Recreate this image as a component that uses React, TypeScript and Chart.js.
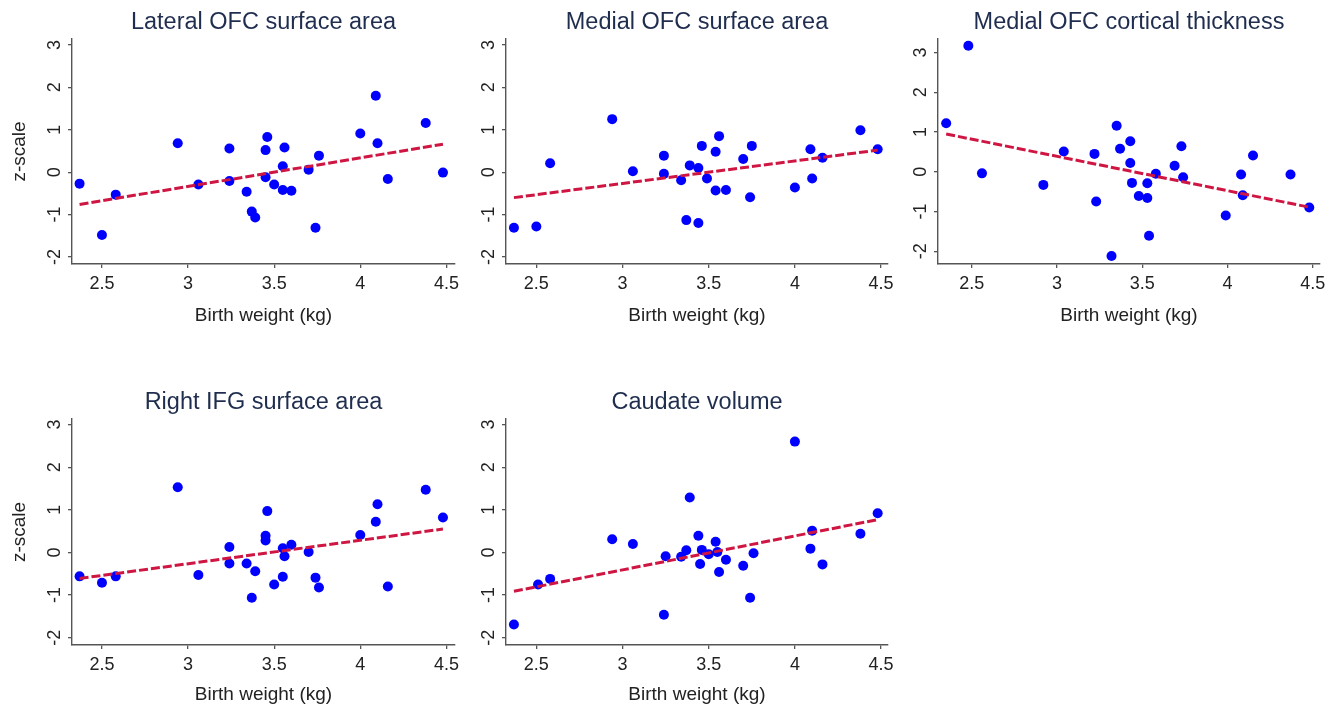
import React, { useEffect, useRef } from "react";
import { Chart, registerables } from "chart.js";

Chart.register(...registerables);

// ---------- data ----------
const xTickValues = [2.5, 3, 3.5, 4, 4.5];
const yTickValues = [-2, -1, 0, 1, 2, 3];
const xAxisLabel = "Birth weight (kg)";
const yAxisLabel = "z-scale";

const lateralTitle = "Lateral OFC surface area";
const lateralX = [2.37, 2.5, 2.58, 2.94, 3.06, 3.24, 3.24, 3.34, 3.37, 3.39, 3.45, 3.46, 3.45, 3.5, 3.55, 3.55, 3.56, 3.6, 3.7, 3.74, 3.76, 4.0, 4.09, 4.1, 4.16, 4.38, 4.48];
const lateralY = [-0.27, -1.48, -0.53, 0.68, -0.29, 0.56, -0.21, -0.46, -0.93, -1.07, 0.52, 0.83, -0.12, -0.29, 0.14, -0.42, 0.58, -0.44, 0.06, -1.31, 0.39, 0.91, 1.8, 0.68, -0.16, 1.16, -0.01];
const lateralFitX = [2.37, 4.48];
const lateralFitY = [-0.76, 0.66];

const medialAreaTitle = "Medial OFC surface area";
const medialAreaX = [2.37, 2.5, 2.58, 2.94, 3.06, 3.24, 3.24, 3.34, 3.37, 3.39, 3.44, 3.46, 3.44, 3.49, 3.54, 3.54, 3.56, 3.6, 3.7, 3.74, 3.75, 4.0, 4.09, 4.1, 4.16, 4.38, 4.48];
const medialAreaY = [-1.31, -1.28, 0.21, 1.25, 0.02, 0.39, -0.04, -0.19, -1.13, 0.16, -1.2, 0.62, 0.1, -0.15, 0.48, -0.43, 0.85, -0.42, 0.31, -0.59, 0.62, -0.36, 0.54, -0.15, 0.34, 0.99, 0.54];
const medialAreaFitX = [2.37, 4.48];
const medialAreaFitY = [-0.6, 0.52];

const medialThickTitle = "Medial OFC cortical thickness";
const medialThickX = [2.35, 2.48, 2.56, 2.92, 3.04, 3.22, 3.23, 3.32, 3.35, 3.37, 3.43, 3.43, 3.44, 3.48, 3.53, 3.53, 3.54, 3.58, 3.69, 3.73, 3.74, 3.99, 4.08, 4.09, 4.15, 4.37, 4.48];
const medialThickY = [1.22, 3.17, -0.04, -0.33, 0.51, 0.45, -0.75, -2.12, 1.16, 0.58, 0.77, 0.22, -0.28, -0.61, -0.29, -0.66, -1.61, -0.05, 0.15, 0.64, -0.14, -1.1, -0.07, -0.59, 0.41, -0.07, -0.9];
const medialThickFitX = [2.35, 4.48];
const medialThickFitY = [0.95, -0.89];

const ifgTitle = "Right IFG surface area";
const ifgX = [2.37, 2.5, 2.58, 2.94, 3.06, 3.24, 3.24, 3.34, 3.37, 3.39, 3.45, 3.45, 3.46, 3.5, 3.55, 3.55, 3.56, 3.6, 3.7, 3.74, 3.76, 4.0, 4.09, 4.1, 4.16, 4.38, 4.48];
const ifgY = [-0.56, -0.71, -0.56, 1.53, -0.53, 0.13, -0.26, -0.26, -1.06, -0.44, 0.39, 0.28, 0.97, -0.75, 0.1, -0.57, -0.09, 0.18, 0.01, -0.59, -0.82, 0.41, 0.72, 1.13, -0.8, 1.47, 0.82];
const ifgFitX = [2.37, 4.48];
const ifgFitY = [-0.61, 0.55];

const caudateTitle = "Caudate volume";
const caudateX = [2.37, 2.51, 2.58, 2.94, 3.06, 3.25, 3.24, 3.34, 3.37, 3.39, 3.44, 3.45, 3.46, 3.5, 3.54, 3.55, 3.56, 3.6, 3.7, 3.74, 3.76, 4.0, 4.09, 4.1, 4.16, 4.38, 4.48];
const caudateY = [-1.69, -0.75, -0.62, 0.31, 0.2, -0.09, -1.46, -0.1, 0.05, 1.29, 0.39, -0.27, 0.06, -0.04, 0.25, 0.01, -0.46, -0.17, -0.31, -1.06, -0.02, 2.6, 0.09, 0.51, -0.28, 0.44, 0.92];
const caudateFitX = [2.37, 4.48];
const caudateFitY = [-0.91, 0.77];

// ---------- layout / style ----------
const FONT = '"Liberation Sans", Arial, Helvetica, sans-serif';
const TITLE_COLOR = "#1f2d4e";
const TEXT_COLOR = "#222222";
const AXIS_COLOR = "#555555";
const DOT_COLOR = "#0000ff";
const FIT_COLOR = "#cf1642";

type PanelDef = {
  title: string;
  xs: number[];
  ys: number[];
  fitX: number[];
  fitY: number[];
  left: number;
  top: number;
  width: number;
  height: number;
  yAxisWidth: number;
  padTop: number;
  padRight: number;
  xAxisHeight: number;
  xTitlePad: number;
  showYTitle: boolean;
  xMin: number;
  xMax: number;
  yMin: number;
  yMax: number;
};

const panels: PanelDef[] = [
  { title: lateralTitle, xs: lateralX, ys: lateralY, fitX: lateralFitX, fitY: lateralFitY,
    left: 0, top: 0, width: 480, height: 340, yAxisWidth: 72, padTop: 39, padRight: 25,
    xAxisHeight: 76, xTitlePad: 13, showYTitle: true, xMin: 2.326, xMax: 4.55, yMin: -2.165, yMax: 3.14 },
  { title: medialAreaTitle, xs: medialAreaX, ys: medialAreaY, fitX: medialAreaFitX, fitY: medialAreaFitY,
    left: 450, top: 0, width: 460, height: 340, yAxisWidth: 56, padTop: 39, padRight: 22,
    xAxisHeight: 76, xTitlePad: 13, showYTitle: false, xMin: 2.324, xMax: 4.54, yMin: -2.165, yMax: 3.14 },
  { title: medialThickTitle, xs: medialThickX, ys: medialThickY, fitX: medialThickFitX, fitY: medialThickFitY,
    left: 890, top: 0, width: 446, height: 340, yAxisWidth: 48, padTop: 39, padRight: 16,
    xAxisHeight: 76, xTitlePad: 13, showYTitle: false, xMin: 2.302, xMax: 4.543, yMin: -2.32, yMax: 3.34 },
  { title: ifgTitle, xs: ifgX, ys: ifgY, fitX: ifgFitX, fitY: ifgFitY,
    left: 0, top: 380, width: 480, height: 327, yAxisWidth: 72, padTop: 39, padRight: 25,
    xAxisHeight: 62, xTitlePad: 1, showYTitle: true, xMin: 2.326, xMax: 4.55, yMin: -2.17, yMax: 3.13 },
  { title: caudateTitle, xs: caudateX, ys: caudateY, fitX: caudateFitX, fitY: caudateFitY,
    left: 450, top: 380, width: 460, height: 327, yAxisWidth: 56, padTop: 39, padRight: 22,
    xAxisHeight: 62, xTitlePad: 1, showYTitle: false, xMin: 2.324, xMax: 4.54, yMin: -2.17, yMax: 3.13 },
];

function Panel({ def }: { def: PanelDef }) {
  const ref = useRef<HTMLCanvasElement | null>(null);

  useEffect(() => {
    if (!ref.current) return;
    const decor = {
      id: "decor",
      afterDraw(chart: any) {
        const { ctx, chartArea, scales } = chart;
        ctx.save();
        // title
        ctx.fillStyle = TITLE_COLOR;
        ctx.font = `23.5px ${FONT}`;
        ctx.textAlign = "center";
        ctx.textBaseline = "middle";
        ctx.fillText(def.title, (chartArea.left + chartArea.right) / 2, 23);
        // rotated y tick labels
        ctx.fillStyle = TEXT_COLOR;
        ctx.font = `18px ${FONT}`;
        for (const v of yTickValues) {
          const py = scales.y.getPixelForValue(v);
          ctx.save();
          ctx.translate(chartArea.left - 17, py);
          ctx.rotate(-Math.PI / 2);
          ctx.textAlign = "center";
          ctx.textBaseline = "middle";
          ctx.fillText(String(v), 0, 0);
          ctx.restore();
        }
        ctx.restore();
      },
    };

    const chart = new Chart(ref.current, {
      type: "scatter",
      data: {
        datasets: [
          {
            type: "line",
            data: def.fitX.map((x, i) => ({ x, y: def.fitY[i] })),
            borderColor: FIT_COLOR,
            borderWidth: 3,
            borderDash: [9, 3],
            pointRadius: 0,
            fill: false,
          } as any,
          {
            type: "scatter",
            data: def.xs.map((x, i) => ({ x, y: def.ys[i] })),
            backgroundColor: DOT_COLOR,
            borderWidth: 0,
            pointRadius: 5,
          },
        ],
      },
      options: {
        animation: false,
        responsive: false,
        maintainAspectRatio: false,
        events: [],
        layout: { padding: { top: def.padTop, right: def.padRight, left: 0, bottom: 0 } },
        plugins: {
          legend: { display: false },
          tooltip: { enabled: false },
          title: { display: false },
        },
        scales: {
          x: {
            type: "linear",
            min: def.xMin,
            max: def.xMax,
            afterBuildTicks: (s: any) => {
              s.ticks = xTickValues.map((v) => ({ value: v }));
            },
            afterFit: (s: any) => {
              s.height = def.xAxisHeight;
              s.paddingLeft = 0;
              s.paddingRight = 0;
            },
            border: { display: true, color: AXIS_COLOR, width: 1.4 },
            grid: { display: true, drawOnChartArea: false, drawTicks: true, tickLength: 4, color: AXIS_COLOR, lineWidth: 1.3 },
            ticks: {
              color: TEXT_COLOR,
              font: { size: 18, family: FONT },
              padding: 5,
              maxRotation: 0,
              minRotation: 0,
              autoSkip: false,
              callback: (v: any) => String(v),
            },
            title: {
              display: true,
              text: xAxisLabel,
              color: TEXT_COLOR,
              font: { size: 19, family: FONT },
              padding: { top: 0, bottom: def.xTitlePad },
            },
          },
          y: {
            type: "linear",
            min: def.yMin,
            max: def.yMax,
            afterBuildTicks: (s: any) => {
              s.ticks = yTickValues.map((v) => ({ value: v }));
            },
            afterFit: (s: any) => {
              s.width = def.yAxisWidth;
              s.paddingTop = 0;
              s.paddingBottom = 0;
            },
            border: { display: true, color: AXIS_COLOR, width: 1.4 },
            grid: { display: true, drawOnChartArea: false, drawTicks: true, tickLength: 4, color: AXIS_COLOR, lineWidth: 1.3 },
            ticks: { display: false },
            title: {
              display: def.showYTitle,
              text: yAxisLabel,
              color: TEXT_COLOR,
              font: { size: 19, family: FONT },
              padding: { top: 8, bottom: 0 },
            },
          },
        },
      },
      plugins: [decor],
    });
    return () => chart.destroy();
  }, [def]);

  return (
    <canvas
      ref={ref}
      width={def.width}
      height={def.height}
      style={{
        position: "absolute",
        left: def.left,
        top: def.top,
        width: def.width,
        height: def.height,
      }}
    />
  );
}

export default function App() {
  return (
    <div
      style={{
        position: "absolute",
        left: 0,
        top: 0,
        width: 1336,
        height: 707,
        background: "#ffffff",
        overflow: "hidden",
      }}
    >
      {panels.map((p) => (
        <Panel key={p.title} def={p} />
      ))}
    </div>
  );
}
